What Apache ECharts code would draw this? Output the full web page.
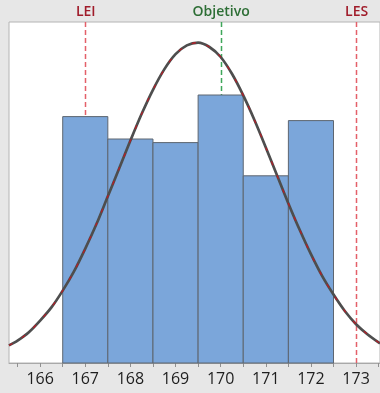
<!DOCTYPE html>
<html>
<head>
<meta charset="utf-8">
<script src="https://cdn.jsdelivr.net/npm/echarts@6/dist/echarts.min.js"></script>
<style>
html,body{margin:0;padding:0;background:#e7e7e7;}
#chart{width:380px;height:393px;}
</style>
</head>
<body>
<div id="chart"></div>
<script>
// Histogram bins (edges) and frequencies (relative units)
const binEdges = [166.5, 167.5, 168.5, 169.5, 170.5, 171.5, 172.5];
const frequencies = [61.6, 56, 55.1, 67, 46.8, 60.6];
// Fitted normal curve
const curveX = [165.31, 165.5, 165.75, 166.0, 166.25, 166.5, 166.75, 167.0, 167.25, 167.5, 167.75, 168.0, 168.25, 168.5, 168.75, 169.0, 169.25, 169.5, 169.75, 170.0, 170.25, 170.5, 170.75, 171.0, 171.25, 171.5, 171.75, 172.0, 172.25, 172.5, 172.75, 173.0, 173.25, 173.53];
const curveY = [4.4, 5.6, 7.7, 10.6, 13.9, 18.1, 22.9, 28.6, 34.8, 41.7, 48.6, 55.6, 62.3, 68.3, 73.4, 77.2, 79.4, 80.1, 79.0, 76.5, 72.3, 66.9, 60.7, 53.9, 46.9, 39.9, 33.3, 27.2, 21.7, 17.1, 13.0, 9.7, 7.2, 4.9];
// Specification lines
const specNames = ['LEI', 'Objetivo', 'LES'];
const specValues = [167, 170, 173];
// Axis ticks / labels
const tickLabels = [166, 167, 168, 169, 170, 171, 172, 173];
const minorTicks = [165.5, 166.5, 167.5, 168.5, 169.5, 170.5, 171.5, 172.5, 173.5];

const Y_MAX = 85.25;
const bins = frequencies.map((f, i) => [binEdges[i], binEdges[i + 1], f]);
const curve = curveX.map((x, i) => [x, curveY[i]]);
const specs = specValues.map((v, i) => [v, i]);

const specColors = ['#e4606a', '#3fa65a', '#e4606a'];
const specLabelColors = ['#a01c2a', '#2d6e35', '#a01c2a'];

const chart = echarts.init(document.getElementById('chart'));
chart.setOption({
  backgroundColor: '#e7e7e7',
  animation: false,
  grid: {
    left: 9, top: 22, right: -2, bottom: 30,
    show: true, backgroundColor: '#ffffff', borderColor: '#b4b4b4', borderWidth: 1
  },
  xAxis: {
    type: 'value', min: 165.31, max: 173.53,
    splitLine: { show: false },
    axisLine: { show: true, lineStyle: { color: '#a8a8a8', width: 1 } },
    axisTick: {
      show: true, length: 4, lineStyle: { color: '#909090' },
      customValues: tickLabels.concat(minorTicks)
    },
    axisLabel: {
      customValues: tickLabels,
      formatter: v => String(Math.round(v)),
      color: '#1e1e1e', fontSize: 16, margin: 8,
      fontFamily: 'Open Sans'
    }
  },
  yAxis: {
    type: 'value', min: 0, max: Y_MAX, show: false,
    splitLine: { show: false }
  },
  series: [
    {
      type: 'custom', zlevel: 0, z: 1, clip: false,
      data: specs,
      renderItem: function (params, api) {
        const v = api.value(0);
        const idx = api.value(1);
        const pb = api.coord([v, 0]);
        const pt = api.coord([v, Y_MAX]);
        return {
          type: 'group',
          children: [
            {
              type: 'line',
              shape: { x1: Math.round(pb[0]) + 0.5, y1: pb[1], x2: Math.round(pt[0]) + 0.5, y2: pt[1] },
              style: { stroke: specColors[idx], lineWidth: 1.5, lineDash: [5, 3] }
            },
            {
              type: 'text',
              x: pt[0] + 0.5, y: pt[1] - 3,
              style: {
                text: specNames[idx], fill: specLabelColors[idx],
                font: '600 14px "Open Sans"',
                textAlign: 'center', textVerticalAlign: 'bottom'
              }
            }
          ]
        };
      }
    },
    {
      type: 'custom', zlevel: 1, z: 3,
      data: bins,
      renderItem: function (params, api) {
        const p0 = api.coord([api.value(0), 0]);
        const p1 = api.coord([api.value(1), api.value(2)]);
        return {
          type: 'rect',
          shape: { x: p0[0], y: p1[1], width: p1[0] - p0[0], height: p0[1] - p1[1] },
          style: { fill: '#7ba6da', stroke: '#5e6670', lineWidth: 1 }
        };
      }
    },
    {
      type: 'line', zlevel: 1, data: curve, smooth: 0.3, symbol: 'none', z: 4,
      lineStyle: { color: '#4e4e4e', width: 2.7 }
    },
    {
      type: 'line', zlevel: 1, data: curve, smooth: 0.3, symbol: 'none', z: 5,
      lineStyle: { color: '#b31e28', width: 1.3, type: [4, 11] }
    }
  ]
});
</script>
</body>
</html>
